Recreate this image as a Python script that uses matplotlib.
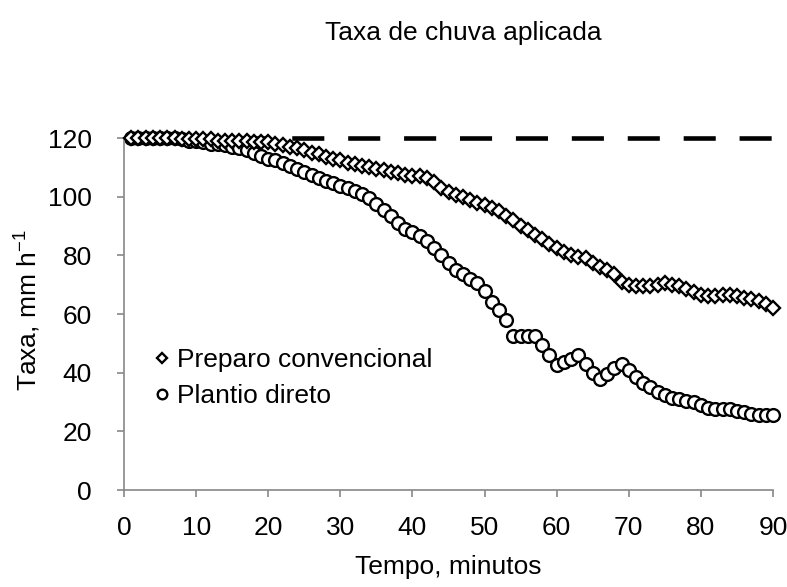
import numpy as np
import matplotlib
matplotlib.use("Agg")
import matplotlib.pyplot as plt

plt.rcParams['font.family'] = ['Liberation Sans', 'DejaVu Sans']
plt.rcParams['mathtext.default'] = 'regular'

FS = 19

# tempo (min) e taxas medidas (mm/h)
tempo = np.arange(1, 91)

preparo_convencional = [
    120, 120, 120, 120, 120, 120, 120, 119.5, 119.5, 119.5,
    119.5, 119.5, 119, 119, 119, 119, 119, 118.5, 118.5, 118.5,
    118, 117.5, 117, 116.5, 116, 115, 114.5, 113.5, 113, 112.5,
    111.5, 111, 110.5, 110, 109.5, 109, 108.5, 108, 107.5, 107,
    107, 106.5, 105, 103, 101.5, 100.5, 100, 99, 98, 97,
    96, 95, 93.5, 92, 90, 88.5, 87, 85.5, 84, 82.5,
    81, 80, 79.5, 79, 77.5, 76, 75, 73.5, 71, 70,
    69.5, 69.5, 69.5, 70, 70.5, 70, 69.5, 68.5, 67.5, 66.5,
    66, 66, 66.5, 66.5, 66, 65.5, 65, 64.5, 63.5, 62,
]

plantio_direto = [
    120, 120, 120, 120, 120, 120, 120, 119.5, 119, 119,
    118.5, 118, 118, 117.5, 117, 116.5, 116, 115, 114, 113,
    112.5, 111.5, 110.5, 109.5, 108.5, 107.5, 106.5, 105.5, 104.5, 103.5,
    103, 102, 101, 99.5, 97.5, 95.5, 93.5, 91, 89, 88,
    86.5, 85, 82.5, 80, 77.5, 75, 73.5, 72, 70.5, 68,
    64, 61.5, 58, 52.5, 52.5, 52.5, 52.5, 49.5, 46, 42.5,
    43.5, 44.5, 46, 43, 40, 38, 39.5, 41.5, 43, 41,
    38.5, 36.5, 35, 33.5, 32.5, 31.5, 31, 30.5, 30, 29,
    28, 27.5, 27.5, 27.5, 27, 26.5, 26, 25.5, 25.5, 25.5,
]

taxa_aplicada = 120
x_ticks = np.arange(0, 91, 10)
y_ticks = np.arange(0, 121, 20)

fig = plt.figure(figsize=(7.87, 5.87), dpi=100)
ax = fig.add_axes([0.1576, 0.1652, 0.8246, 0.5997])

# linha tracejada da chuva aplicada
ax.plot([0, 90], [taxa_aplicada, taxa_aplicada], color='black', lw=3.3,
        dashes=(7.0, 5.2), zorder=1, clip_on=False)

ax.plot(tempo, preparo_convencional, linestyle='none', marker='D', ms=6.8,
        mfc='white', mec='black', mew=1.7, label='Preparo convencional',
        zorder=3, clip_on=False)
ax.plot(tempo, plantio_direto, linestyle='none', marker='o', ms=9.2,
        mfc='white', mec='black', mew=1.7, label='Plantio direto',
        zorder=2, clip_on=False)

ax.set_xlim(0, 90)
ax.set_ylim(0, 120)
ax.set_xticks(x_ticks)
ax.set_yticks(y_ticks)
ax.tick_params(axis='both', labelsize=FS, colors='#888888', labelcolor='black',
               length=5, width=1.2, direction='out')
ax.tick_params(axis='x', pad=14)
ax.tick_params(axis='y', pad=18)
for side in ['top', 'right']:
    ax.spines[side].set_visible(False)
for side in ['left', 'bottom']:
    ax.spines[side].set_color('#888888')
    ax.spines[side].set_linewidth(1.2)

leg = ax.legend(loc='upper left', bbox_to_anchor=(0.049, 0.403), frameon=False,
                fontsize=FS, markerscale=0.75, handlelength=0.5,
                handletextpad=0.3, labelspacing=0.45, borderpad=0,
                borderaxespad=0)

fig.text(463 / 787, 1 - 33 / 587, 'Taxa de chuva aplicada', fontsize=FS,
         ha='center', va='center')
fig.text(448 / 787, 1 - 567 / 587, 'Tempo, minutos', fontsize=FS,
         ha='center', va='center')
fig.text(28 / 787, 1 - 310 / 587, 'Taxa, mm h$^{-1}$', fontsize=FS,
         ha='center', va='center', rotation=90)

fig.savefig('out.png', dpi=100)
